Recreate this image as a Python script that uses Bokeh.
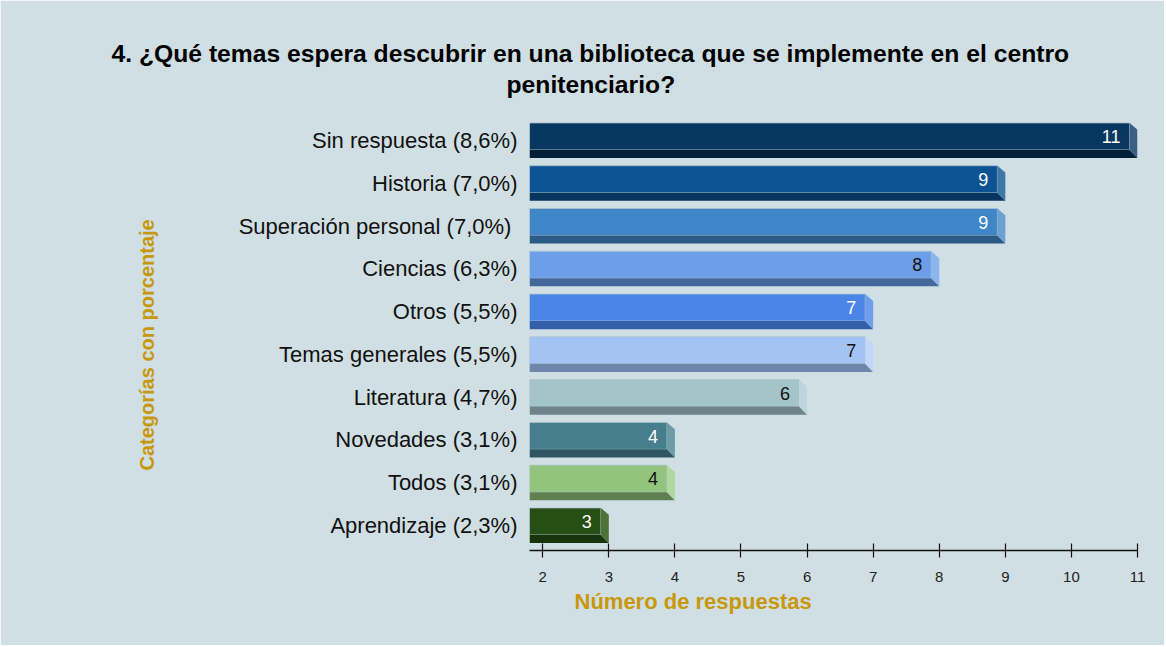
import math
from bokeh.plotting import figure
from bokeh.models import Range1d, FixedTicker, Title, ColumnDataSource
from bokeh.embed import file_html
from bokeh.resources import INLINE
from bokeh.core.properties import value

# ---------------- data ----------------
title_line1 = "4. ¿Qué temas espera descubrir en una biblioteca que se implemente en el centro"
title_line2 = "penitenciario?"
x_title = "Número de respuestas"
y_title = "Categorías con porcentaje"

categories = [
    "Sin respuesta (8,6%)",
    "Historia (7,0%)",
    "Superación personal  (7,0%)",
    "Ciencias (6,3%)",
    "Otros (5,5%)",
    "Temas generales (5,5%)",
    "Literatura (4,7%)",
    "Novedades (3,1%)",
    "Todos (3,1%)",
    "Aprendizaje (2,3%)",
]
counts = [11, 9, 9, 8, 7, 7, 6, 4, 4, 3]
x_ticks = [2, 3, 4, 5, 6, 7, 8, 9, 10, 11]

face_colors = ["#08375F", "#0D5394", "#3F86C8", "#6C9FE8", "#4A86E6",
               "#A4C3F5", "#A3C4C9", "#457E8D", "#93C47D", "#274E13"]
strip_colors = ["#041F38", "#083560", "#2A5A85", "#45689C", "#335FA8",
                "#6E86AC", "#6E8488", "#2E5560", "#5E7F50", "#18340B"]
side_colors = ["#3A5F82", "#3E78A8", "#6EA0D4", "#8BB5EE", "#6E9EEA",
               "#C2D7F8", "#BCD6DA", "#6C9CA8", "#B0D89E", "#4E7238"]
label_colors = ["#FFFFFF", "#FFFFFF", "#FFFFFF", "#111111", "#FFFFFF",
                "#111111", "#111111", "#FFFFFF", "#111111", "#FFFFFF"]

# ---------------- style ----------------
BG = "#D0DFE3"
GOLD = "#C9970C"
FONT = "Liberation Sans"
X0 = 1.8          # left end of axis (bars start here)
DEPTH = 0.12      # 3D side depth (data units)
H = 0.41          # half bar height
STRIP = 0.19      # dark bottom strip height
SLANT = 0.16      # slant of the side top

n = len(counts)
ypos = [n - 1 - i for i in range(n)]

face = dict(xs=[], ys=[], color=face_colors)
strip = dict(xs=[], ys=[], color=strip_colors)
side = dict(xs=[], ys=[], color=side_colors)
for v, y in zip(counts, ypos):
    fr = v - DEPTH
    top, bot = y + H, y - H
    face["xs"].append([X0, fr, fr, X0])
    face["ys"].append([top, top, bot + STRIP, bot + STRIP])
    strip["xs"].append([X0, fr, v, X0])
    strip["ys"].append([bot + STRIP, bot + STRIP, bot, bot])
    side["xs"].append([fr, v, v, fr])
    side["ys"].append([top, top - SLANT, bot, bot + STRIP])

p = figure(width=1164, height=645,
           x_range=Range1d(X0, 11), y_range=Range1d(-0.584, 9.958),
           output_backend="svg", toolbar_location=None,
           min_border_left=529, min_border_right=27,
           min_border_top=99, min_border_bottom=95,
           background_fill_color=BG, border_fill_color=BG,
           outline_line_color=BG, outline_line_width=2)
p.title.visible = False
p.xgrid.visible = False
p.ygrid.visible = False

p.patches("xs", "ys", source=ColumnDataSource(face), fill_color="color",
          line_color="#A9C0CE", line_width=0.8)
p.patches("xs", "ys", source=ColumnDataSource(strip), fill_color="color",
          line_color=None)
p.patches("xs", "ys", source=ColumnDataSource(side), fill_color="color",
          line_color=None)

lab_src = ColumnDataSource(dict(x=counts, y=[yy + 0.09 for yy in ypos],
                                t=[str(c) for c in counts], c=label_colors))
p.text("x", "y", text="t", source=lab_src, text_color="c",
       text_align="right", text_baseline="middle", x_offset=-17,
       text_font=value(FONT), text_font_size="18px")

# x axis
xa = p.xaxis[0]
xa.ticker = FixedTicker(ticks=x_ticks)
xa.axis_line_color = "#111111"
xa.axis_line_width = 1.5
xa.major_tick_line_color = "#111111"
xa.major_tick_line_width = 1.2
xa.major_tick_in = 7
xa.major_tick_out = 7
xa.minor_tick_line_color = None
xa.major_label_standoff = 14
xa.major_label_text_font = FONT
xa.major_label_text_font_size = "15px"
xa.major_label_text_color = "#222222"

# y axis
ya = p.yaxis[0]
ya.ticker = FixedTicker(ticks=ypos)
ya.major_label_overrides = {yy: c for yy, c in zip(ypos, categories)}
ya.axis_line_color = None
ya.major_tick_line_color = None
ya.major_tick_out = 0
ya.major_tick_in = 0
ya.minor_tick_line_color = None
ya.major_label_standoff = 12
ya.major_label_text_font = FONT
ya.major_label_text_font_size = "22px"
ya.major_label_text_color = "#111111"

# titles (line 2 first: later "above" titles stack further out)
p.add_layout(Title(text=title_line2, align="left", offset=-23, standoff=4,
                   text_font=FONT, text_font_size="24.7px", text_font_style="bold",
                   text_color="#000000"), "above")
p.add_layout(Title(text=title_line1, align="left", offset=-418, standoff=0,
                   text_font=FONT, text_font_size="24.7px", text_font_style="bold",
                   text_color="#000000"), "above")
p.add_layout(Title(text=x_title, align="left", offset=45, standoff=5,
                   text_font=FONT, text_font_size="22px", text_font_style="bold",
                   text_color=GOLD), "below")
p.add_layout(Title(text=y_title, align="left", offset=80, standoff=156,
                   text_font=FONT, text_font_size="20px", text_font_style="bold",
                   text_color=GOLD), "left")

open("out.html", "w").write(file_html(p, INLINE))
